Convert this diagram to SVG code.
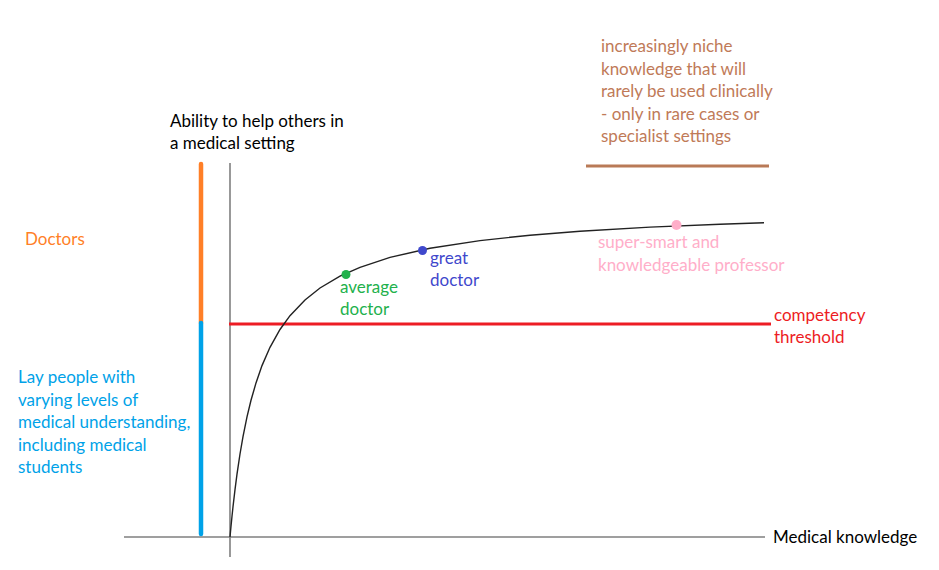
<svg xmlns="http://www.w3.org/2000/svg" width="939" height="570" viewBox="0 0 939 570">
<style>
text{font-family:Lato,"Liberation Sans",sans-serif;font-size:17px}
.axis{stroke:#7f7f7f;stroke-width:1.6;fill:none}
.blk{fill:#000}
.brown{fill:#c07a58}
.orange{fill:#ff7f27}
.blue{fill:#00a2e8}
.green{fill:#22b14c}
.indigo{fill:#3f48cc}
.pink{fill:#ffaec9}
.red{fill:#ed1c24}
</style>
<rect width="939" height="570" fill="#fff"/>
<g id="connectors">
<line class="axis" x1="124" y1="537" x2="765" y2="537"/>
<line class="axis" x1="230" y1="163" x2="230" y2="557"/>
<line x1="201" y1="164" x2="201" y2="323" stroke="#ff7f27" stroke-width="4.5" stroke-linecap="round"/>
<line x1="201" y1="323" x2="201" y2="534" stroke="#00a2e8" stroke-width="4.5" stroke-linecap="round"/>
<line x1="229" y1="324" x2="771" y2="324" stroke="#ed1c24" stroke-width="3"/>
<line x1="586" y1="166" x2="769" y2="166" stroke="#b97a57" stroke-width="3"/>
<polyline fill="none" stroke="#222" stroke-width="1.4" points="230,537 231,526.3 232,516.3 233,506.8 235,489.6 237,474.2 240,454 243,436.6 247,416.9 251,400.3 256,382.9 262,365.6 270,347.3 280,329.5 290,315.7 305,299.9 320,288 340,276.1 360,267.3 390,257.4 430,248.3 480,240.6 530,235.2 580,231.2 650,227.1 720,224.2 764,222.7"/>
</g>
<g id="y-axis-label">
<text class="blk" x="170" y="127">Ability to help others in</text>
<text class="blk" x="170" y="149">a medical setting</text>
</g>
<g id="x-axis-label">
<text class="blk" x="773" y="543">Medical knowledge</text>
</g>
<g id="niche-note">
<text class="brown" x="601" y="52">increasingly niche</text>
<text class="brown" x="601" y="74.5">knowledge that will</text>
<text class="brown" x="601" y="97">rarely be used clinically</text>
<text class="brown" x="601" y="119.5">- only in rare cases or</text>
<text class="brown" x="601" y="142">specialist settings</text>
</g>
<g id="doctors">
<text class="orange" x="25" y="245">Doctors</text>
</g>
<g id="lay-people">
<text class="blue" x="18" y="383">Lay people with</text>
<text class="blue" x="18" y="405.5">varying levels of</text>
<text class="blue" x="18" y="428">medical understanding,</text>
<text class="blue" x="18" y="450.5">including medical</text>
<text class="blue" x="18" y="473">students</text>
</g>
<g id="average-doctor">
<circle cx="346" cy="274.5" r="4.5" fill="#22b14c"/>
<text class="green" x="340" y="292.5">average</text>
<text class="green" x="340" y="315">doctor</text>
</g>
<g id="great-doctor">
<circle cx="422.5" cy="250.5" r="4.5" fill="#3f48cc"/>
<text class="indigo" x="430" y="264">great</text>
<text class="indigo" x="430" y="286">doctor</text>
</g>
<g id="professor">
<circle cx="676.5" cy="225" r="5" fill="#ffaec9"/>
<text class="pink" x="598" y="248">super-smart and</text>
<text class="pink" x="598" y="270.5">knowledgeable professor</text>
</g>
<g id="competency-threshold">
<text class="red" x="774" y="321">competency</text>
<text class="red" x="774" y="343">threshold</text>
</g>
</svg>
